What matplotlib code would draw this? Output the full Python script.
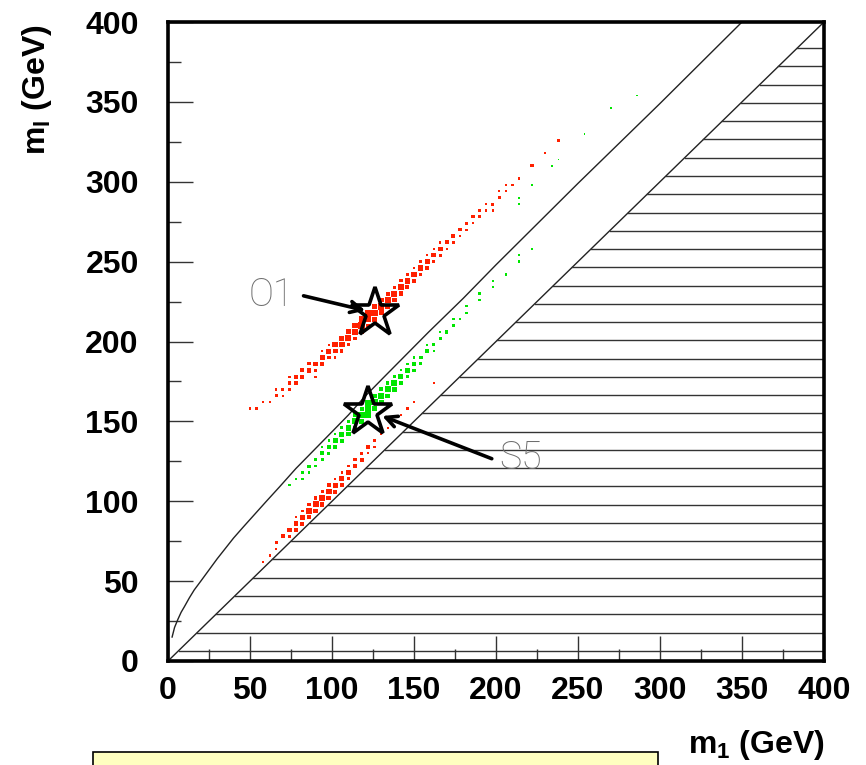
import numpy as np
import matplotlib
matplotlib.use("Agg")
import matplotlib.pyplot as plt
from matplotlib.patches import Rectangle

plt.rcParams['font.family'] = ['Liberation Sans', 'DejaVu Sans']
plt.rcParams['mathtext.fontset'] = 'custom'
plt.rcParams['mathtext.rm'] = 'Liberation Sans'
plt.rcParams['mathtext.bf'] = 'Liberation Sans:bold'

# ---- data -------------------------------------------------------------
BIN = 4.0  # GeV, cell width of the 2D histograms

# O1 scan (red, upper band): cell centres m1, ml and cell content
o1_m1 = [50, 54, 58, 62, 66, 66, 70, 70, 74, 74, 74, 78, 78, 82, 82, 86, 86, 90, 90,
         94, 94, 98, 98, 102, 102, 106, 106, 110, 110, 114, 114, 118, 118, 122, 122,
         126, 126, 126, 130, 130, 134, 134, 138, 138, 142, 142, 146, 146, 150, 150,
         154, 154, 158, 158, 162, 162, 166, 166, 170, 170, 174, 174, 178, 178, 182, 182,
         186, 186, 190, 190, 194, 194, 198, 198, 202, 202, 206, 206, 210, 214, 222, 230, 238,
         90, 94, 98, 102, 106, 110, 114, 118, 122, 130, 134, 138, 142, 146, 150, 154,
         158, 162, 166]
o1_ml = [158, 158, 162, 162, 166, 170, 170, 166, 174, 170, 178, 178, 174, 178, 182, 182, 186, 186, 182,
         190, 186, 194, 190, 198, 194, 198, 202, 202, 206, 206, 210, 210, 214, 214, 218,
         218, 222, 214, 222, 218, 226, 222, 230, 226, 234, 230, 238, 234, 242, 238,
         246, 242, 250, 246, 254, 250, 258, 254, 262, 258, 266, 262, 270, 266, 274, 270,
         278, 274, 278, 282, 282, 286, 286, 282, 290, 294, 294, 298, 298, 302, 310, 318, 326,
         178, 194, 198, 190, 194, 198, 202, 206, 210, 226, 230, 234, 238, 242, 246, 250,
         254, 258, 262]
o1_w = [1, 1, 1, 1, 2, 1, 2, 1, 2, 1, 1, 3, 2, 3, 3, 4, 2, 4, 2,
        5, 3, 5, 3, 6, 4, 6, 5, 7, 5, 7, 5, 8, 6, 8, 7,
        9, 6, 5, 8, 5, 7, 5, 7, 4, 7, 4, 6, 3, 6, 3,
        5, 2, 5, 2, 4, 2, 4, 2, 3, 1, 3, 2, 2, 1, 2, 1,
        2, 1, 2, 1, 1, 1, 2, 1, 2, 1, 1, 1, 1, 1, 2, 1, 2,
        1, 1, 1, 1, 2, 2, 2, 3, 3, 4, 3, 2, 2, 2, 1, 1,
        1, 1, 1]

# S5 scan (green, middle band)
s5_m1 = [74, 78, 82, 82, 86, 86, 90, 90, 94, 94, 98, 98, 102, 102, 102, 106, 106,
         110, 110, 114, 114, 114, 118, 118, 122, 122, 122, 126, 126, 130, 130,
         134, 134, 138, 138, 142, 142, 146, 146, 150, 150, 154, 154, 158, 158,
         162, 162, 166, 166, 170, 174, 174, 178, 182, 182, 190, 190, 198, 198, 206,
         214, 214, 222, 214, 214, 222, 234, 238, 254, 270, 286,
         94, 98, 106, 110, 118, 126, 130, 134, 138, 142, 146, 150]
s5_ml = [110, 114, 118, 114, 122, 118, 126, 122, 130, 126, 134, 130, 138, 134, 142, 142, 138,
         146, 142, 150, 146, 154, 154, 150, 158, 154, 162, 162, 158, 166, 162,
         170, 166, 174, 170, 178, 174, 182, 178, 186, 182, 190, 186, 194, 198,
         198, 194, 202, 206, 206, 210, 214, 214, 218, 222, 226, 230, 234, 238, 242,
         250, 254, 258, 286, 290, 298, 310, 314, 330, 346, 354,
         134, 138, 146, 150, 158, 166, 170, 174, 178, 182, 186, 190]
s5_w = [1, 1, 1, 1, 2, 1, 2, 1, 3, 2, 3, 2, 4, 3, 1, 5, 3,
        6, 4, 7, 4, 3, 8, 5, 9, 6, 5, 8, 5, 7, 5,
        7, 4, 6, 4, 5, 3, 5, 2, 4, 2, 3, 2, 3, 1,
        2, 1, 2, 1, 2, 1, 1, 1, 1, 1, 1, 1, 1, 1, 1,
        1, 1, 1, 0.5, 0.5, 0.5, 0.5, 0.5, 0.5, 0.5, 0.5,
        1, 1, 2, 2, 3, 4, 3, 2, 2, 1, 1, 1]

# second red scan (lower band)
lo_m1 = [58, 62, 66, 66, 70, 74, 74, 78, 78, 82, 82, 86, 86, 90, 90, 94, 94, 98, 98, 98,
         102, 102, 106, 106, 110, 110, 114, 114, 118, 118, 122, 122, 126, 126, 130, 134,
         142, 146, 150, 162,
         78, 82, 86, 90, 94, 102, 106, 110]
lo_ml = [62, 66, 74, 70, 78, 82, 78, 86, 82, 90, 86, 94, 90, 98, 94, 102, 98, 106, 102, 110,
         110, 106, 114, 110, 118, 114, 122, 126, 126, 130, 134, 130, 138, 134, 142, 146,
         154, 158, 162, 174,
         90, 94, 98, 102, 106, 114, 118, 122]
lo_w = [1, 1, 2, 1, 3, 4, 2, 4, 2, 5, 3, 6, 3, 7, 4, 6, 4, 6, 4, 3,
        5, 3, 5, 3, 4, 2, 3, 2, 3, 2, 2, 1, 2, 1, 1, 1,
        1, 1, 1, 1,
        1, 1, 2, 2, 2, 1, 1, 1]

# benchmark points
bench_names = ["O1", "S5"]
bench_m1 = [126, 122]
bench_ml = [218, 156]
label_m1 = [49, 202]
label_ml = [229, 127]

# upper kinematic boundary
edge_m1 = [2.5, 4, 6, 8, 10, 13, 16, 20, 25, 30, 35, 40, 46, 53, 60, 68, 78, 89,
           100, 110, 120, 131, 145, 159, 180, 200, 225, 250, 275, 300, 325, 350]
edge_ml = [15, 21, 26, 30.5, 34, 39.5, 44.5, 50, 57, 64, 70.5, 77, 84, 92, 100, 109,
           120.5, 132, 143.5, 154, 165.5, 177, 191.5, 206, 227, 248, 273.5, 299, 324,
           349, 374.5, 400]

xticks = [0, 50, 100, 150, 200, 250, 300, 350, 400]
yticks = [0, 50, 100, 150, 200, 250, 300, 350, 400]

# ---- figure -----------------------------------------------------------
W, H = 866, 765
fig = plt.figure(figsize=(W / 100, H / 100), dpi=100)
ax = fig.add_axes([168 / W, 1 - 661 / H, 656 / W, 639 / H])
ax.set_xlim(0, 400)
ax.set_ylim(0, 400)


def draw_boxes(xs, ys, ws, color):
    wmax = 8.0
    for x, y, w in zip(xs, ys, ws):
        s = BIN * min(1.0, np.sqrt(w / wmax))
        ax.add_patch(Rectangle((x - s / 2, y - s / 2), s, s, facecolor=color,
                               edgecolor='none', zorder=3))


# excluded region: m_l < m_1, horizontal hatching
ax.plot([0, 400], [0, 400], color='#222222', lw=1.0, zorder=2)
for yh in np.arange(383.6, 0, -11.43):
    ax.plot([yh, 400], [yh, yh], color='#333333', lw=1.0, zorder=2)

ax.plot(edge_m1, edge_ml, color='#222222', lw=1.0, zorder=2)

draw_boxes(o1_m1, o1_ml, o1_w, '#ff2000')
draw_boxes(lo_m1, lo_ml, lo_w, '#ff2000')
draw_boxes(s5_m1, s5_ml, s5_w, '#00e600')

ax.plot(bench_m1, bench_ml, linestyle='none', marker='*', markersize=37,
        markerfacecolor='none', markeredgecolor='black', markeredgewidth=2.6, zorder=5)

for name, bx, by, lx, ly in zip(bench_names, bench_m1, bench_ml, label_m1, label_ml):
    ax.text(lx, ly, name, fontsize=27, color='#6e6e6e', ha='left', va='center',
            family=['Roboto', 'Liberation Sans'], fontweight='light', zorder=6)

ax.annotate('', xy=(bench_m1[0] - 4, bench_ml[0] + 1), xytext=(81, 229),
            arrowprops=dict(arrowstyle='->,head_length=0.8,head_width=0.4',
                            color='black', lw=2.6), zorder=6)
ax.annotate('', xy=(bench_m1[1] + 7, bench_ml[1] - 2), xytext=(199, 126),
            arrowprops=dict(arrowstyle='->,head_length=0.8,head_width=0.4',
                            color='black', lw=2.6), zorder=6)

# axes styling
ax.set_xticks(xticks)
ax.set_yticks(yticks)
ax.set_xticks(np.arange(25, 400, 50), minor=True)
ax.set_yticks(np.arange(25, 400, 50), minor=True)
ax.set_xticklabels([str(t) for t in xticks], fontweight='bold', fontsize=23)
ax.set_yticklabels([str(t) for t in yticks], fontweight='bold', fontsize=23)
ax.tick_params(which='both', direction='in', top=False, right=False,
               color='#333333', width=1.0)
ax.tick_params(which='major', length=18)
ax.tick_params(which='minor', length=9)
ax.tick_params(axis='x', which='major', pad=11)
ax.tick_params(axis='y', which='major', pad=21)
for sp in ax.spines.values():
    sp.set_linewidth(2.6)
    sp.set_color('black')

fig.text(825 / W, 1 - 753 / H, r'$\mathbf{m_1}$ (GeV)', fontsize=23,
         fontweight='bold', ha='right', va='baseline')
fig.text(37 / W, 1 - 24 / H, r'$\mathbf{m_l}$ (GeV)', fontsize=23,
         fontweight='bold', ha='center', va='top', rotation=90)

fig.patches.append(Rectangle((93 / W, -0.02), 565 / W, 0.02 + 13 / H,
                             transform=fig.transFigure, facecolor='#ffffc0',
                             edgecolor='black', lw=1.2, zorder=1))

fig.savefig('out.png', dpi=100)
